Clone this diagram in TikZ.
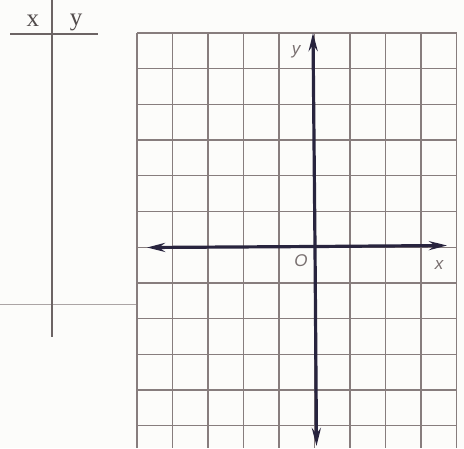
\documentclass[tikz,border=0pt]{standalone}
\usepackage{fontspec}
\setmainfont{Liberation Serif}
\newfontfamily\lblfont{Liberation Sans}
\usetikzlibrary{arrows.meta}
\definecolor{gridc}{RGB}{135,125,125}
\definecolor{axisc}{RGB}{40,36,62}
\definecolor{paper}{RGB}{252,252,250}
\tikzset{
  gridline/.style={draw=gridc, line width=1.3pt},
  axisline/.style={draw=axisc, line width=3.2pt, arrows={-Stealth[length=18pt,width=9pt,inset=6pt]}},
  tableline/.style={draw=gridc!80!black, line width=1.4pt},
  foldline/.style={draw=gridc!70, line width=1pt},
  axlabel/.style={font=\lblfont\itshape\fontsize{17}{17}\selectfont, text=gridc!90!black, inner sep=0pt},
  tlabel/.style={font=\fontsize{25}{25}\selectfont, text=gridc!60!black, inner sep=0pt},
}
\begin{document}
\begin{tikzpicture}[x=1pt,y=-1pt]
\useasboundingbox[fill=paper] (0,0) rectangle (464,448);
% fold line on the left
\draw[foldline] (0,304) -- (137,304);
% table
\draw[tableline] (10,34) -- (98,34);
\draw[tableline] (52,0) -- (52,337);
\node[tlabel] (tx) at (33,21) {x};
\node[tlabel] (ty) at (76,22) {y};
% grid
\foreach \i in {0,...,9} {
  \draw[gridline] (137+35.5*\i,33) -- (137+35.5*\i,448);
}
\foreach \j in {0,...,11} {
  \draw[gridline] (137,33+35.7*\j) -- (456.5,33+35.7*\j);
}
% axes
\coordinate (xleft) at (147,247.5);
\coordinate (xright) at (447,245.5);
\coordinate (ytop) at (313,33);
\coordinate (ybot) at (316.5,446);
\coordinate (o) at (315,246.5);
\draw[axisline] (o) -- (xright);
\draw[axisline] (o) -- (xleft);
\draw[axisline] (o) -- (ytop);
\draw[axisline] (o) -- (ybot);
% labels
\node[axlabel] (ly) at (296,52) {y};
\node[axlabel] (lo) at (301,261) {O};
\node[axlabel] (lx) at (439,265) {x};
\end{tikzpicture}
\end{document}
